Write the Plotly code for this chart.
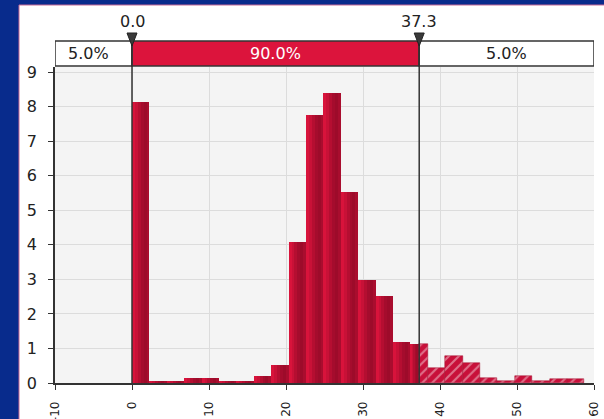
import plotly.graph_objects as go

# ---------------- data ----------------
bin_edges = [0.0, 2.26, 4.52, 6.78, 9.04, 11.3, 13.56, 15.82, 18.08, 20.34, 22.6,
             24.86, 27.12, 29.38, 31.64, 33.9, 36.16, 38.42, 40.68, 42.94, 45.2,
             47.46, 49.72, 51.98, 54.24, 56.5, 58.76]
bin_heights = [8.13, 0.05, 0.05, 0.15, 0.15, 0.06, 0.06, 0.21, 0.53, 4.08, 7.75,
               8.39, 5.53, 2.98, 2.51, 1.18, 1.14, 0.43, 0.78, 0.58, 0.15, 0.05,
               0.21, 0.05, 0.13, 0.13]
thresholds = [0.0, 37.3]
threshold_labels = ["0.0", "37.3"]
band_labels = ["5.0%", "90.0%", "5.0%"]
x_ticks = [-10, 0, 10, 20, 30, 40, 50, 60]
y_ticks = [0, 1, 2, 3, 4, 5, 6, 7, 8, 9]

# ---------------- style ----------------
W, H = 604, 419
ML, MR, MT, MB = 55, 10, 67, 36
XR = [-10, 60]
YR = [0, 9.15]
BLUE = "#082b8c"
CRIMSON = "#dc143c"
BAR = "#d8133b"
DARK = "#333333"
FONT = "DejaVu Sans"

pw = W - ML - MR
ph = H - MT - MB


def px_to_paper_x(px):
    return (px - ML) / pw


def px_to_paper_y(py):
    return (H - MB - py) / ph


# split bins into solid (inside thresholds) and hatched (above upper threshold)
lo_t, hi_t = thresholds
solid_l, solid_w, solid_y = [], [], []
hatch_l, hatch_w, hatch_y = [], [], []
for i, h in enumerate(bin_heights):
    a, b = bin_edges[i], bin_edges[i + 1]
    if b <= hi_t:
        solid_l.append(a); solid_w.append(b - a); solid_y.append(h)
    elif a >= hi_t:
        hatch_l.append(a); hatch_w.append(b - a); hatch_y.append(h)
    else:
        solid_l.append(a); solid_w.append(hi_t - a); solid_y.append(h)
        hatch_l.append(hi_t); hatch_w.append(b - hi_t); hatch_y.append(h)

fig = go.Figure()
# base bars
fig.add_trace(go.Bar(
    x=solid_l, y=solid_y, width=solid_w, offset=0,
    marker=dict(color=BAR, line=dict(width=0)),
    showlegend=False, hoverinfo="skip"))
# shading slices to imitate the cylinder gradient of each bar
shade = [0.0, 0.10, 0.22, 0.32, 0.38, 0.30]
n = len(shade)
for k, a in enumerate(shade):
    if a == 0:
        continue
    fig.add_trace(go.Bar(
        x=[l + w * k / n for l, w in zip(solid_l, solid_w)], y=solid_y,
        width=[w / n for w in solid_w], offset=0,
        marker=dict(color=f"rgba(60,0,15,{a})", line=dict(width=0)),
        showlegend=False, hoverinfo="skip"))
# hatched tail
fig.add_trace(go.Bar(
    x=hatch_l, y=hatch_y, width=hatch_w, offset=0,
    marker=dict(color="#c8103a", line=dict(color="#a00c2c", width=0.5),
                pattern=dict(shape="/", fgcolor="#f4d0d8", size=7, solidity=0.3)),
    showlegend=False, hoverinfo="skip"))

shapes = []
# white panel over blue background
shapes.append(dict(type="rect", xref="paper", yref="paper", layer="below",
                   x0=px_to_paper_x(19), x1=px_to_paper_x(W + 2),
                   y0=px_to_paper_y(H + 2), y1=px_to_paper_y(5),
                   fillcolor="white", line=dict(color="#c86a96", width=1)))
# plot area background
shapes.append(dict(type="rect", xref="paper", yref="paper", layer="below",
                   x0=0, x1=1, y0=0, y1=1, fillcolor="#f4f4f4", line=dict(width=0)))

band_y0 = px_to_paper_y(66)
band_y1 = px_to_paper_y(41)
band_edges = [XR[0], thresholds[0], thresholds[1], XR[1]]
band_fill = ["white", CRIMSON, "white"]
for j in range(3):
    shapes.append(dict(type="rect", xref="x", yref="paper",
                       x0=band_edges[j], x1=band_edges[j + 1], y0=band_y0, y1=band_y1,
                       fillcolor=band_fill[j], line=dict(color=DARK, width=1.5)))
# threshold lines
for t in thresholds:
    shapes.append(dict(type="line", xref="x", yref="paper", x0=t, x1=t,
                       y0=0, y1=band_y1, line=dict(color=DARK, width=1.5)))
# triangles
tri_top = px_to_paper_y(33)
tri_bot = px_to_paper_y(46)
for t in thresholds:
    d = 0.65
    shapes.append(dict(type="path", xref="x", yref="paper",
                       path=f"M {t-d} {tri_top} L {t+d} {tri_top} L {t} {tri_bot} Z",
                       fillcolor="#3a3a3a", line=dict(color="#222", width=1)))

annotations = []
band_centers = [(band_edges[j] + band_edges[j + 1]) / 2 for j in range(3)]
band_centers[0] -= 0.6
band_colors = ["#222", "white", "#222"]
for j in range(3):
    annotations.append(dict(x=band_centers[j], y=(band_y0 + band_y1) / 2, xref="x", yref="paper",
                            text=band_labels[j], showarrow=False, yanchor="middle",
                            xanchor="center",
                            font=dict(family=FONT, size=16, color=band_colors[j])))
for t, lab in zip(thresholds, threshold_labels):
    annotations.append(dict(x=t, y=px_to_paper_y(22), xref="x", yref="paper",
                            text=lab, showarrow=False, yanchor="middle", xanchor="center",
                            font=dict(family=FONT, size=16, color="#222")))

fig.update_layout(
    width=W, height=H,
    margin=dict(l=ML, r=MR, t=MT, b=MB, pad=0, autoexpand=False),
    paper_bgcolor=BLUE, plot_bgcolor="rgba(0,0,0,0)",
    bargap=0, barmode="overlay",
    shapes=shapes, annotations=annotations,
    font=dict(family=FONT, color="#222"),
    xaxis=dict(range=XR, tickvals=x_ticks, ticktext=[str(v) for v in x_ticks],
               tickangle=-90, ticks="outside", ticklen=5, tickcolor=DARK,
               showline=True, linecolor=DARK, linewidth=1.5, automargin=False,
               showgrid=True, gridcolor="#dcdcdc", gridwidth=1, zeroline=False,
               tickfont=dict(family=FONT, size=12, color="#222"), ticklabelstandoff=7),
    yaxis=dict(range=YR, tickvals=y_ticks, ticks="outside", ticklen=5, tickcolor=DARK,
               showline=True, linecolor=DARK, linewidth=1.5, automargin=False,
               showgrid=True, gridcolor="#dcdcdc", gridwidth=1, zeroline=False,
               tickfont=dict(family=FONT, size=16, color="#222"), ticklabelstandoff=8),
)

fig.write_html("out.html",
               config={"displayModeBar": False},
               post_script="document.body.style.margin='0';"
                           "document.body.style.background='" + BLUE + "';")
